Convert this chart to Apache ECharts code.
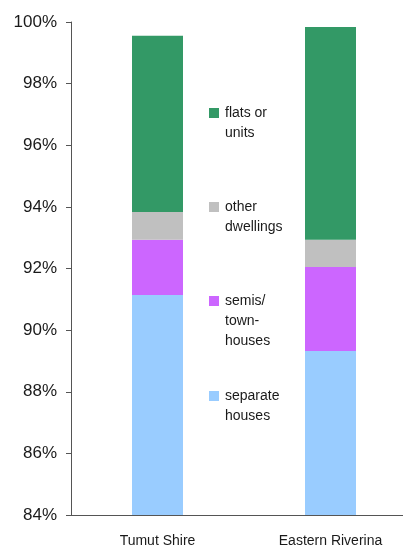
<!DOCTYPE html>
<html>
<head>
<meta charset="utf-8">
<script src="https://cdn.jsdelivr.net/npm/echarts@6/dist/echarts.min.js"></script>
<style>
  html, body { margin: 0; padding: 0; background: #fff; }
  #chart { width: 403px; height: 547px; }
</style>
</head>
<body>
<div id="chart"></div>
<script>
// Dwelling structure shares (% of occupied private dwellings)
const regions = ['Tumut Shire', 'Eastern Riverina'];
const separateHouses = [91.14, 89.32];
const semisTownhouses = [1.79, 2.73];
const otherDwellings = [0.90, 0.88];
const flatsUnits = [5.72, 6.91];
const yTicks = { min: 84, max: 100, step: 2 };

const seriesDefs = [
  { name: 'separate houses', lines: ['separate', 'houses'], data: separateHouses, color: '#99CCFF', legendTop: 366 },
  { name: 'semis/ town-houses', lines: ['semis/', 'town-', 'houses'], data: semisTownhouses, color: '#CC66FF', legendTop: 251 },
  { name: 'other dwellings', lines: ['other', 'dwellings'], data: otherDwellings, color: '#C0C0C0', legendTop: 177 },
  { name: 'flats or units', lines: ['flats or', 'units'], data: flatsUnits, color: '#339966', legendTop: 83 }
];

const font = '"Liberation Sans", Arial, Helvetica, sans-serif';
const axisColor = '#555555';

// Legend text is centred on its swatch; leading blank lines keep the
// swatch level with the first line of wrapped text.
function legendLabel(lines) {
  const pad = new Array(lines.length - 1).fill('');
  return pad.concat(lines).join('\n');
}

const chart = echarts.init(document.getElementById('chart'), null, { renderer: 'canvas' });

// One legend per series so each entry can be placed on its own
const legends = seriesDefs.map(s => ({
  data: [s.name],
  orient: 'vertical',
  left: 209,
  top: s.legendTop,
  padding: 0,
  itemWidth: 10,
  itemHeight: 10,
  icon: 'rect',
  selectedMode: false,
  formatter: () => legendLabel(s.lines),
  textStyle: {
    fontFamily: font,
    fontSize: 14,
    color: '#1a1a1a',
    lineHeight: 20,
    padding: [0, 0, 0, 1]
  }
}));

chart.setOption({
  animation: false,
  backgroundColor: '#ffffff',
  legend: legends,
  // the category band runs past the right edge, so the plot is clipped there
  grid: { left: 71, width: 346, top: 22, bottom: 32, outerBoundsMode: 'none', containLabel: false },
  xAxis: {
    type: 'category',
    data: regions,
    axisLine: { lineStyle: { color: axisColor, width: 1 } },
    axisTick: { show: false },
    axisLabel: { fontFamily: font, fontSize: 14, color: '#1a1a1a', margin: 19 }
  },
  yAxis: {
    type: 'value',
    min: yTicks.min,
    max: yTicks.max,
    interval: yTicks.step,
    axisLine: { show: true, lineStyle: { color: axisColor, width: 1 } },
    axisTick: { show: true, length: 5, lineStyle: { color: axisColor } },
    splitLine: { show: false },
    axisLabel: { fontFamily: font, fontSize: 17, color: '#1a1a1a', margin: 14, formatter: '{value}%' }
  },
  series: seriesDefs.map(s => ({
    name: s.name,
    type: 'bar',
    stack: 'dwellings',
    barWidth: 51,
    data: s.data,
    itemStyle: { color: s.color },
    emphasis: { disabled: true }
  }))
});
</script>
</body>
</html>
